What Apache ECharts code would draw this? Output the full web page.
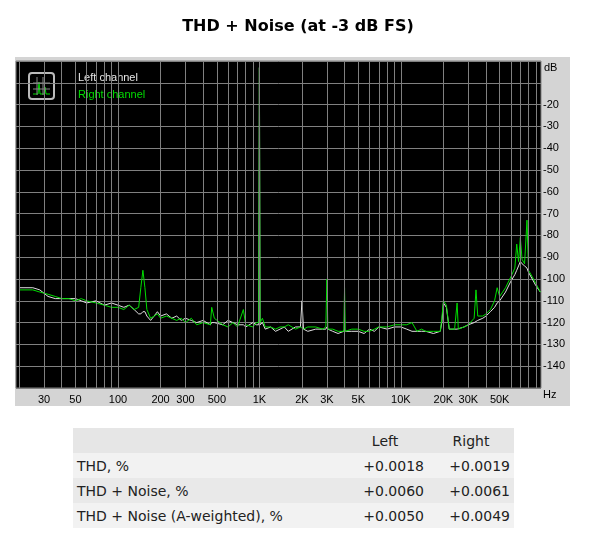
<!DOCTYPE html>
<html><head><meta charset="utf-8">
<script src="https://cdn.jsdelivr.net/npm/echarts@6/dist/echarts.min.js"></script>
<style>
body{margin:0;background:#fff;font-family:"DejaVu Sans",Verdana,sans-serif;}
#c{position:absolute;left:0;top:0;width:600px;height:415px;}
table{position:absolute;left:73px;top:428px;width:441px;border-collapse:collapse;font-size:14px;color:#222;}
td{height:25px;padding:0 4px;}
tr:nth-child(1){background:#e6e6e6}
tr:nth-child(2){background:#f2f2f2}
tr:nth-child(3){background:#e9e9e9}
tr:nth-child(4){background:#f2f2f2}
td.v{text-align:right;width:78px}
</style></head><body>
<div id="c"></div>
<table>
<tr><td></td><td class="v" style="text-align:center">Left</td><td class="v" style="text-align:center">Right</td></tr>
<tr><td>THD, %</td><td class="v">+0.0018</td><td class="v">+0.0019</td></tr>
<tr><td>THD + Noise, %</td><td class="v">+0.0060</td><td class="v">+0.0061</td></tr>
<tr><td>THD + Noise (A-weighted), %</td><td class="v">+0.0050</td><td class="v">+0.0049</td></tr>
</table>
<script>
const freqs=[20,25,28,32,36,40,45,50,55,60,70,80,90,100,110,120,130,140,145,150,155,160,170,180,190,200,220,240,260,280,300,330,360,400,450,460,480,550,600,650,700,770,800,900,950,990,1000,1010,1050,1100,1200,1300,1400,1500,1600,1800,1950,2000,2050,2200,2500,2800,2950,3000,3050,3300,3600,3950,4000,4050,4500,5000,5500,6000,6500,7000,8000,9000,10000,11000,12000,13000,14000,15000,17000,19000,19500,20000,21000,22000,24000,25000,25500,28000,30000,33000,34000,35000,38000,40000,43000,46000,48000,50000,55000,60000,64000,66000,68000,70000,72000,75000,78000,80000,85000,90000,97000];
const leftDb=[-104,-104,-105,-108,-109,-109,-109,-109,-110,-111,-110,-112,-111,-112,-113,-112,-114,-116,-116,-115,-115,-117,-119,-117,-115,-117,-116,-118,-117,-119,-118,-119,-120,-119,-121,-120,-120,-121,-119,-120,-121,-121,-122,-120,-121,-121,-3,-121,-120,-123,-122,-124,-123,-122,-124,-122,-122,-110,-123,-124,-123,-123,-123,-122,-123,-124,-125,-124,-123,-124,-124,-124,-125,-123,-124,-122,-123,-122,-122,-123,-124,-124,-124,-124,-125,-124,-120,-111,-113,-123,-123,-123,-123,-122,-121,-120,-120,-119,-118,-117,-115,-113,-111,-110,-106,-101,-98,-96,-94,-92,-93,-94,-95,-97,-100,-103,-106];
const rightDb=[-105,-105,-106,-107,-108,-109,-109,-110,-109,-110,-111,-112,-113,-113,-114,-112,-114,-113,-104,-96,-104,-114,-118,-117,-116,-118,-117,-118,-119,-118,-120,-118,-121,-120,-121,-113,-118,-121,-122,-120,-122,-114,-121,-122,-120,-120,-3,-120,-118,-122,-122,-123,-122,-122,-121,-123,-122,-122,-123,-122,-122,-123,-122,-100,-123,-123,-124,-124,-104,-124,-123,-123,-124,-124,-123,-122,-122,-121,-121,-121,-120,-124,-123,-124,-124,-124,-118,-110,-112,-123,-123,-111,-123,-122,-121,-118,-105,-117,-117,-116,-114,-110,-104,-108,-104,-99,-95,-84,-92,-81,-91,-93,-73,-96,-99,-102,-106];
const gridFreqs=[20,30,40,50,60,70,80,90,100,200,300,400,500,600,700,800,900,1000,2000,3000,4000,5000,6000,7000,8000,9000,10000,20000,30000,40000,50000,60000,70000,80000,90000];
const tickFreqs=[30,50,100,200,300,500,1000,2000,3000,5000,10000,20000,30000,50000];
const chart=echarts.init(document.getElementById('c'));
const fmt=v=>v>=1000?(v/1000)+'K':String(v);
chart.setOption({
 animation:false,
 title:{text:'THD + Noise (at -3 dB FS)',left:293,textAlign:'center',top:14,textStyle:{fontFamily:'DejaVu Sans',fontSize:16,fontWeight:'bold',color:'#000'}},
 graphic:[
  {type:'rect',z:-10,shape:{x:15,y:57,width:555,height:349},style:{fill:'#d4d4d4'}},
  {type:'text',left:544,top:62,style:{text:'dB',fontSize:11,fill:'#000',fontFamily:'Liberation Sans'}},
  {type:'text',left:543,top:389,style:{text:'Hz',fontSize:11,fill:'#000',fontFamily:'Liberation Sans'}},
  {type:'group',left:28,top:72,z:100,children:[
   {type:'rect',shape:{x:0,y:0,width:25,height:26,r:3},style:{fill:'#000',stroke:'#bbb',lineWidth:2}},
   {type:'polyline',shape:{points:[[4,21],[9,21],[10,9],[11,21],[15,21],[16,14],[17,21],[21,21]]},style:{stroke:'#00dd00',fill:null,lineWidth:1}},
   {type:'line',shape:{x1:4,y1:10,x2:21,y2:10},style:{stroke:'#888'}},
   {type:'line',shape:{x1:4,y1:16,x2:21,y2:16},style:{stroke:'#888'}},
   {type:'line',shape:{x1:8,y1:4,x2:8,y2:22},style:{stroke:'#888'}},
   {type:'line',shape:{x1:14,y1:4,x2:14,y2:22},style:{stroke:'#888'}}
  ]}
 ],
 legend:{orient:'vertical',left:68,top:66,itemGap:4,icon:'none',itemWidth:0,
  data:[{name:'Left channel',textStyle:{color:'#e8e8e8'}},{name:'Right channel',textStyle:{color:'#00dd00'}}],
  textStyle:{fontSize:11,fontFamily:'Liberation Sans'}},
 grid:{left:16,right:59,top:61,bottom:27,show:true,backgroundColor:'#000',borderColor:'#808080',borderWidth:1},
 xAxis:{type:'log',logBase:10,min:19,max:98000,
  axisLine:{show:false},axisTick:{show:false},splitLine:{show:false},
  axisLabel:{customValues:tickFreqs,formatter:fmt,color:'#000',fontSize:11,fontFamily:'Liberation Sans',margin:6}},
 yAxis:{type:'value',position:'right',min:-150,max:0,interval:10,
  axisLine:{show:false},axisTick:{show:false},
  splitLine:{show:true,lineStyle:{color:'#808080',width:1}},
  axisLabel:{color:'#000',fontSize:11,fontFamily:'Liberation Sans',margin:2,
   formatter:v=>(v===0||v===-10||v===-150)?'':String(v)}},
 series:[
  {name:'Left channel',type:'line',symbol:'none',data:freqs.map((f,i)=>[f,leftDb[i]]),lineStyle:{color:'#e0e0e0',width:1},itemStyle:{color:'#e0e0e0'},
   markLine:{silent:true,symbol:'none',label:{show:false},lineStyle:{color:'#808080',width:1,type:'solid'},data:gridFreqs.map(f=>({xAxis:f}))},z:3},
  {name:'Right channel',type:'line',symbol:'none',data:freqs.map((f,i)=>[f,rightDb[i]]),lineStyle:{color:'#00dd00',width:1},itemStyle:{color:'#00dd00'},z:4}
 ]
});
</script></body></html>
